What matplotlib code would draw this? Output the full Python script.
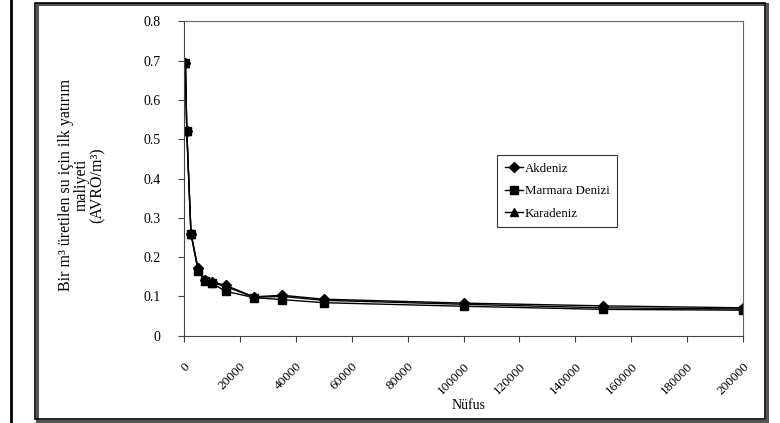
import matplotlib
matplotlib.use("Agg")
import matplotlib.pyplot as plt
from matplotlib.patches import Rectangle

plt.rcParams['font.family'] = ['Liberation Serif', 'DejaVu Serif']

# Population (x) and initial investment cost per m3 of produced water (y)
nufus = [500, 1000, 2500, 5000, 7500, 10000, 15000, 25000, 35000, 50000, 100000, 150000, 200000]
akdeniz = [0.695, 0.52, 0.26, 0.172, 0.143, 0.137, 0.128, 0.099, 0.103, 0.093, 0.083, 0.076, 0.071]
marmara = [0.695, 0.52, 0.26, 0.165, 0.140, 0.133, 0.113, 0.097, 0.092, 0.084, 0.075, 0.067, 0.065]
karadeniz = [0.695, 0.52, 0.26, 0.170, 0.142, 0.135, 0.125, 0.098, 0.100, 0.090, 0.080, 0.071, 0.068]

x_ticks = [0, 20000, 40000, 60000, 80000, 100000, 120000, 140000, 160000, 180000, 200000]
y_ticks = [0, 0.1, 0.2, 0.3, 0.4, 0.5, 0.6, 0.7, 0.8]
y_ticklabels = ['0', '0.1', '0.2', '0.3', '0.4', '0.5', '0.6', '0.7', '0.8']

fig = plt.figure(figsize=(7.8, 4.23), dpi=100)
ax = fig.add_axes([184 / 780, 1 - 335.7 / 423, (743 - 184) / 780, (335.7 - 21.5) / 423])

series = [
    ('Akdeniz', akdeniz, 'D', 5),
    ('Marmara Denizi', marmara, 's', 5.5),
    ('Karadeniz', karadeniz, '^', 6),
]
for name, vals, mk, ms in series:
    ax.plot(nufus, vals, color='black', lw=1.0, marker=mk, ms=ms,
            markerfacecolor='black', markeredgecolor='black', label=name)

ax.set_xlim(0, 200000)
ax.set_ylim(0, 0.8)
ax.set_xticks(x_ticks)
ax.set_xticklabels([str(v) for v in x_ticks], rotation=45, ha='right',
                   rotation_mode='anchor', fontsize=9.5)
ax.set_yticks(y_ticks)
ax.set_yticklabels(y_ticklabels, fontsize=10)
ax.tick_params(axis='both', direction='out', length=4, width=0.8, color='#444444')
ax.tick_params(axis='y', pad=13)
ax.tick_params(axis='x', pad=14)

for side in ['top', 'right']:
    ax.spines[side].set_color('#666666')
    ax.spines[side].set_linewidth(0.8)
for side in ['left', 'bottom']:
    ax.spines[side].set_color('#444444')
    ax.spines[side].set_linewidth(0.8)

ax.set_xlabel('Nüfus', fontsize=10)
ax.xaxis.set_label_coords((468 - 184) / 559, -(405 - 335.7) / 314.2)
ax.xaxis.label.set_va('center')
fig.text(82 / 780, 1 - 185 / 423,
         'Bir m³ üretilen su için ilk yatırım\nmaliyeti\n(AVRO/m³)',
         rotation=90, ha='center', va='center', fontsize=11.5, linespacing=1.0,
         multialignment='center')

leg = ax.legend(loc='upper left', bbox_to_anchor=((497 - 184) / 559, (335.7 - 155) / 314.2),
                fontsize=9.3, frameon=True, fancybox=False, borderpad=0.6,
                labelspacing=0.8, handlelength=1.4, handletextpad=0.15, borderaxespad=0)
leg.get_frame().set_edgecolor('black')
leg.get_frame().set_linewidth(0.8)

# Chart area frame with a dark shadow on the right and bottom edges
W, H = 780, 423
fig.patches.append(Rectangle((37 / W, 1 - 421 / H), (767 - 37) / W, (421 - 4) / H,
                             transform=fig.transFigure, fill=False,
                             edgecolor='#555555', lw=2.2, zorder=0))
fig.patches.append(Rectangle((35 / W, 1 - 419 / H), (765 - 35) / W, (419 - 3) / H,
                             transform=fig.transFigure, fill=False,
                             edgecolor='black', lw=1.2, zorder=1))
fig.lines.append(plt.Line2D([11 / W, 11 / W], [0, 1], transform=fig.transFigure,
                            color='black', lw=2.0))

fig.savefig('out.png', dpi=100)
